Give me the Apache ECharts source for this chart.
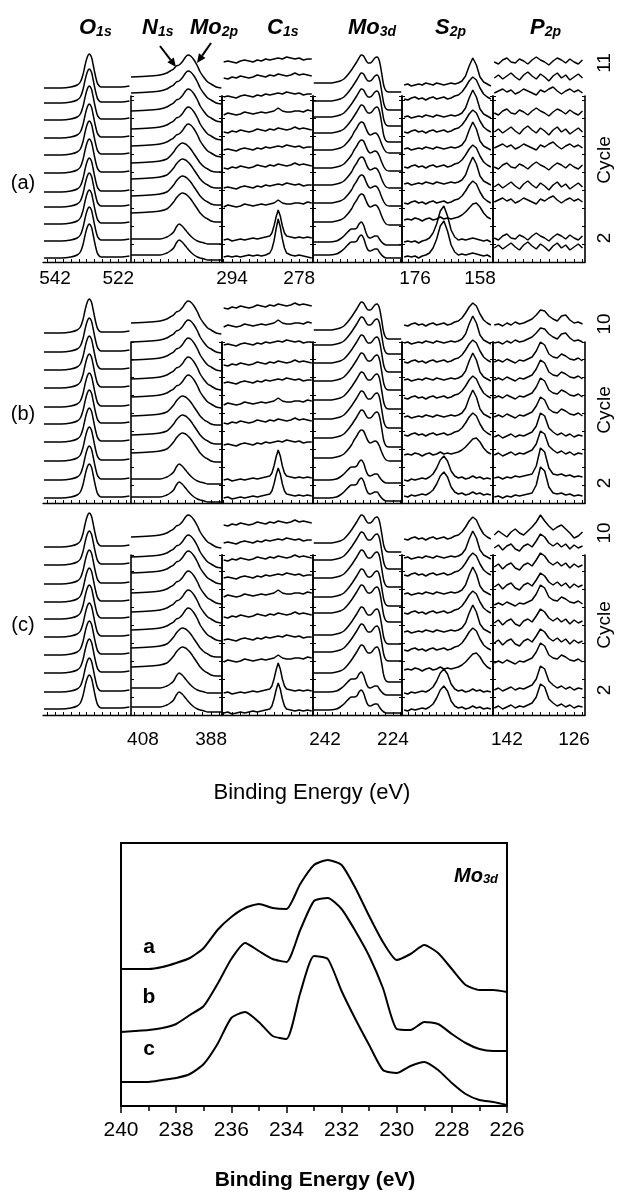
<!DOCTYPE html>
<html>
<head>
<meta charset="utf-8">
<script src="https://cdn.jsdelivr.net/npm/echarts@6/dist/echarts.min.js"></script>
<style>
  html, body { margin: 0; padding: 0; background: #fff; }
  #chart { width: 619px; height: 1192px; }
</style>
</head>
<body>
<div id="chart"></div>
<script>
// ---------- spectra (intensity in px above each trace's left end) ----------
// O1s
const o1sEnergy = [545.5, 540, 537, 535, 534, 533.2, 532.5, 531.8, 531.2, 530.5, 530, 529.5, 529, 528.5, 527.5, 525, 521, 518.5];
const o1sPeak   = [0, 0, 1, 3, 6, 13, 23, 31, 34, 31, 24, 16, 9, 4, 1, 1, 1, 2];
// N1s / Mo2p
const n1sEnergy = [411.5, 406, 403, 401, 400, 399, 398.2, 397.4, 396.5, 395.5, 394.8, 394, 393, 392, 391.2, 390, 389, 388, 386.5, 385];
const n1sOnly   = [0, 0, 0, 2, 4, 7, 12, 15, 13, 9, 6, 3, 0, -2, -3, -4, -5, -5, -5, -5];
const n1sMix    = [0, 1, 2, 4, 7, 11, 15, 18, 20, 19, 17, 14, 9, 4, 0, -4, -6, -8, -9, -9];
const n1sMo2p   = [0, 1, 2, 4, 6, 8, 11, 12, 15, 20, 22, 21, 17, 11, 5, -1, -5, -7, -10, -11];
// C1s
const c1sEnergy = [296, 295, 294, 293, 292, 291, 290, 289, 288, 287, 286, 285, 284, 283, 282, 281, 280, 279, 278, 277, 276, 275];
const c1sFlat1  = [0, 1, 0, -1, 1, 2, 1, 0, 2, 1, 3, 2, 3, 4, 3, 5, 4, 3, 4, 2, 3, 3];
const c1sFlat2  = [0, -1, 1, 0, 2, 1, 0, 1, 3, 2, 1, 3, 2, 4, 3, 2, 3, 5, 3, 4, 3, 2];
const c1sFlat3  = [0, 2, 1, 0, 1, 3, 2, 1, 2, 3, 2, 3, 4, 7, 4, 3, 3, 4, 4, 3, 5, 4];
const c1sPeakEnergy = [296, 295, 294, 293, 292, 291, 290, 289, 288, 287, 286, 285, 284.5, 284, 283.5, 283, 282.5, 282, 281.5, 281, 280, 279, 278, 277, 276, 275];
const c1sPeakHi = [0, 1, 0, 1, 0, 1, 2, 1, 2, 1, 2, 4, 8, 16, 28, 38, 30, 18, 9, 4, 2, 1, 2, 1, 0, -1];
const c1sPeakLo = [0, 1, -1, 0, 1, 0, 1, 2, 1, 2, 3, 4, 7, 14, 23, 30, 24, 14, 7, 4, 3, 2, 3, 2, 3, 2];
// Mo3d (stacked panels)
const mo3dEnergy = [245, 243, 241, 239, 238, 237, 236, 235, 234.3, 233.6, 233, 232.4, 231.8, 231.2, 230.6, 230, 229.4, 228.8, 228.2, 227.6, 227, 226.4, 225.8, 225, 223, 221.8];
const mo3dTop = [0, 0, 0, 1, 2, 4, 8, 13, 17, 21, 25, 28, 27, 23, 20, 20, 22, 25, 26, 22, 10, -3, -8, -9, -9, -9];
const mo3dMid = [0, 0, 0, 1, 2, 4, 8, 13, 18, 22, 26, 28, 27, 22, 17, 15, 16, 17, 16, 12, 6, 1, -2, -3, -3, -3];
const mo3dLow = [0, 0, 0, 1, 3, 6, 10, 13, 13, 14, 18, 20, 17, 10, 5, 4, 5, 6, 6, 3, 0, -2, -3, -3, -3, -3];
// S2p
const s2pEnergy = [179, 178, 177, 176, 175, 174, 173, 172, 171, 170, 169, 168, 167, 166, 165, 164, 163, 162, 161, 160, 159, 158, 157, 156, 155];
const s2pHi1  = [0, 1, -1, 0, 1, 0, 2, 1, 0, 2, 1, 0, 1, 2, 1, 2, 4, 9, 19, 27, 20, 8, 3, 1, -1];
const s2pHi2  = [0, -1, 1, 2, 0, 1, -1, 1, 2, 0, 1, 2, 0, 1, 3, 4, 7, 12, 18, 22, 19, 11, 5, 2, 0];
const s2pHi3  = [0, 1, 0, 2, 1, -1, 1, 2, 0, 1, 3, 1, 2, 1, 2, 3, 5, 8, 12, 16, 17, 13, 7, 3, 1];
const s2pLowA = [0, 1, 0, 1, -1, 1, 2, 4, 9, 18, 31, 36, 26, 12, 5, 2, 3, 2, 3, 4, 3, 2, 1, 2, 0];
const s2pLowB = [0, -1, 1, 0, 1, 2, 1, 3, 6, 12, 20, 24, 19, 9, 4, 2, 3, 1, 2, 4, 2, 3, 1, 2, 1];
// P2p
const p2pEnergy = [145, 144, 143, 142, 141, 140, 139, 138, 137, 136, 135, 134, 133, 132, 131, 130, 129, 128, 127, 126, 125, 124];
const p2pNoise1 = [0, 3, -1, 2, 5, 1, -2, 3, 6, 2, -1, 4, 1, -3, 2, 5, 0, 3, -2, 1, 4, 0];
const p2pNoise2 = [0, -2, 2, 4, 0, -1, 3, 1, -2, 2, 5, 2, 0, -3, 1, 4, 2, -1, 3, 0, -2, 2];
const p2pNoise3 = [0, 2, 4, 1, 3, -1, 1, 4, 2, 0, -2, 3, 1, 4, 6, 2, -1, 2, 4, 1, 3, 0];
const p2pPeak   = [0, 1, -1, 1, 0, 2, 1, 2, 3, 4, 12, 30, 26, 10, 4, 3, 4, 2, 3, 1, 2, 1];
const p2pPeak2  = [0, 2, -1, 1, 3, 0, 2, 1, 3, 5, 11, 24, 21, 9, 5, 2, 4, 1, 3, 0, 2, 1];
const p2pMid    = [0, 2, 0, 3, 1, -1, 2, 1, 3, 5, 11, 20, 17, 8, 5, 4, 8, 6, 3, 2, 4, 1];
const p2pTop    = [0, 1, -1, 2, 0, 3, 1, 2, 4, 6, 10, 15, 14, 9, 6, 4, 9, 10, 5, 2, 3, 1];
const p2pMidC   = [0, 3, -2, 2, 4, -1, -3, 2, 4, 1, 7, 14, 11, 5, 2, 5, 1, 4, -1, 3, 0, 2];
const p2pTopC   = [0, 4, 1, -2, 3, 6, 2, 0, 4, 8, 13, 20, 14, 9, 5, 8, 10, 6, 2, -3, -1, 3];

// which spectrum each stacked trace shows, cycle 1 (bottom) upwards
const traceShapes = {
  a: [
    ['o', 'o', 'o', 'o', 'o', 'o', 'o', 'o', 'o', 'o', 'o'],
    ['n', 'n', 'nx', 'nx', 'nx', 'nx', 'nm', 'nm', 'nm', 'nm', 'nm'],
    ['cH', 'cL', 'c3', 'c1', 'c2', 'c1', 'c2', 'c3', 'c1', 'c2', 'c1'],
    ['mL', 'mL', 'mM', 'mM', 'mM', 'mM', 'mM', 'mT', 'mT', 'mT', 'mT'],
    ['sA', 'sA', 's3', 's2', 's1', 's2', 's1', 's2', 's1', 's2', 's1'],
    ['p1', 'p2', 'p3', 'p1', 'p2', 'p3', 'p1', 'p2', 'p3', 'p1', 'p2']
  ],
  b: [
    ['o', 'o', 'o', 'o', 'o', 'o', 'o', 'o', 'o', 'o'],
    ['n', 'n', 'nx', 'nx', 'nx', 'nm', 'nm', 'nm', 'nm', 'nm'],
    ['cL', 'cL', 'c1', 'c2', 'c3', 'c1', 'c2', 'c1', 'c3', 'c2'],
    ['mL', 'mL', 'mM', 'mT', 'mT', 'mT', 'mT', 'mT', 'mT', 'mT'],
    ['sB', 'sB', 's3', 's2', 's1', 's2', 's1', 's2', 's1', 's2'],
    ['pP', 'pP', 'pP2', 'pP2', 'pM', 'pM', 'pM', 'pM', 'pT', 'pT']
  ],
  c: [
    ['o', 'o', 'o', 'o', 'o', 'o', 'o', 'o', 'o', 'o'],
    ['n', 'n', 'nx', 'nx', 'nm', 'nm', 'nm', 'nm', 'nm', 'nm'],
    ['cL', 'cL', 'c3', 'c1', 'c2', 'c3', 'c1', 'c2', 'c1', 'c2'],
    ['mL', 'mL', 'mT', 'mT', 'mT', 'mT', 'mT', 'mT', 'mT', 'mT'],
    ['sB', 'sB', 's3', 's2', 's1', 's2', 's1', 's2', 's1', 's2'],
    ['pP2', 'pP2', 'pM', 'pMC', 'pMC', 'pM', 'pMC', 'pMC', 'pMC', 'pTC']
  ]
};

const rowNames = ['a', 'b', 'c'];
const cycleLabels = [['11', '2'], ['10', '2'], ['10', '2']];
const axisLabelsRowA = [[542, 522], null, [294, 278], null, [176, 158], null];
const axisLabelsRowC = [null, [408, 388], null, [242, 224], null, [142, 126]];
const panelTitles = [['O', '1s'], ['N', '1s'], ['Mo', '2p'], ['C', '1s'], ['Mo', '3d'], ['S', '2p'], ['P', '2p']];

// Mo3d comparison panel
const moEnergy = [240, 239.5, 239, 238.5, 238, 237.5, 237, 236.5, 236, 235.5, 235, 234.5, 234, 233.5, 233, 232.5, 232, 231.5, 231, 230.5, 230, 229.5, 229, 228.5, 228, 227.5, 227, 226.5, 226];
const moA = [137, 137, 137, 139, 143, 148, 158, 176, 189, 198, 202, 198, 197, 222, 241, 246, 241, 218, 190, 164, 146, 152, 161, 153, 137, 121, 116, 116, 114];
const moB = [74, 75, 76, 78, 82, 91, 100, 122, 147, 163, 155, 147, 144, 176, 205, 208, 197, 175, 150, 118, 77, 76, 84, 82, 72, 63, 57, 55, 55];
const moC = [24, 24, 24, 26, 28, 32, 42, 62, 88, 94, 84, 70, 67, 113, 150, 147, 115, 87, 61, 36, 33, 40, 44, 36, 23, 12, 6, 4, 1];
const moTicks = [240, 238, 236, 234, 232, 230, 228, 226];
const moNames = ['a', 'b', 'c'];

// ---------- layout ----------
const FONT = 'Liberation Sans, Arial, sans-serif';
const panelEdges = [43, 131, 222, 313, 402, 493, 585];
const rowFrameTop = [96, 342, 555];
const rowAxisY = [262, 503, 715];
const panelRange = [[518, 545.8], [384.8, 411.5], [274.7, 296.4], [221.6, 245.2], [154.4, 179.6], [123.4, 145.3]];
const panelSmooth = [0.3, 0.3, 0, 0.3, 0, 0];
const tickStart = [519.5, 385.5, 276, 222, 156, 124];
const tickStep = [2.5, 2.5, 2, 2, 2, 2];
// vertical offset (px above the axis) of each trace's left end
const offsets = {
  a: [[4, 21, 38, 55, 70, 89, 107, 124, 142, 159, 174],
      [7, 23, 49, 66, 83, 99, 116, 133, 151, 169, 185],
      [5, 22, 55, 74, 94, 112, 130, 147, 165, 184, 200],
      [7, 20, 40, 59, 77, 94, 112, 129, 145, 161, 179],
      [5, 20, 42, 59, 78, 95, 113, 130, 145, 163, 177],
      [14, 24, 60, 75, 95, 114, 130, 149, 169, 184, 200]],
  b: [[5, 23, 42, 61, 79, 96, 115, 133, 151, 170],
      [6, 24, 50, 68, 87, 106, 124, 143, 161, 180],
      [5, 23, 58, 80, 98, 120, 138, 158, 176, 195],
      [5, 23, 45, 65, 84, 103, 122, 140, 158, 173],
      [7, 23, 48, 68, 86, 105, 123, 141, 160, 178],
      [6, 25, 48, 66, 86, 105, 123, 141, 160, 178]],
  c: [[6, 23, 42, 60, 78, 96, 113, 131, 150, 168],
      [8, 27, 48, 67, 85, 103, 122, 142, 158, 178],
      [2, 22, 53, 75, 98, 118, 137, 155, 172, 190],
      [5, 23, 42, 63, 80, 102, 118, 137, 155, 172],
      [5, 22, 45, 65, 83, 102, 121, 140, 157, 176],
      [7, 25, 52, 72, 92, 110, 128, 148, 167, 180]]
};

const shapes = {
  o: [o1sEnergy, o1sPeak],
  n: [n1sEnergy, n1sOnly], nx: [n1sEnergy, n1sMix], nm: [n1sEnergy, n1sMo2p],
  c1: [c1sEnergy, c1sFlat1], c2: [c1sEnergy, c1sFlat2], c3: [c1sEnergy, c1sFlat3],
  cH: [c1sPeakEnergy, c1sPeakHi], cL: [c1sPeakEnergy, c1sPeakLo],
  mT: [mo3dEnergy, mo3dTop], mM: [mo3dEnergy, mo3dMid], mL: [mo3dEnergy, mo3dLow],
  s1: [s2pEnergy, s2pHi1], s2: [s2pEnergy, s2pHi2], s3: [s2pEnergy, s2pHi3],
  sA: [s2pEnergy, s2pLowA], sB: [s2pEnergy, s2pLowB],
  p1: [p2pEnergy, p2pNoise1], p2: [p2pEnergy, p2pNoise2], p3: [p2pEnergy, p2pNoise3],
  pP: [p2pEnergy, p2pPeak], pP2: [p2pEnergy, p2pPeak2], pM: [p2pEnergy, p2pMid],
  pT: [p2pEnergy, p2pTop], pMC: [p2pEnergy, p2pMidC], pTC: [p2pEnergy, p2pTopC]
};

function tickValues(p) {
  const out = [];
  for (let v = tickStart[p]; v <= panelRange[p][1]; v += tickStep[p]) out.push(+v.toFixed(2));
  return out;
}

const grid = [], xAxis = [], yAxis = [], series = [];

rowNames.forEach(function (rn, r) {
  for (let p = 0; p < 6; p++) {
    const gi = grid.length;
    const h = rowAxisY[r] - rowFrameTop[r];
    grid.push({ left: panelEdges[p], top: rowFrameTop[r], width: panelEdges[p + 1] - panelEdges[p], height: h, outerBoundsMode: 'none' });
    let labels = null, margin = 7;
    if (r === 0) labels = axisLabelsRowA[p];
    if (r === 2) { labels = axisLabelsRowC[p]; margin = 15; }
    xAxis.push({
      gridIndex: gi, type: 'value', inverse: true,
      min: panelRange[p][0], max: panelRange[p][1],
      axisLine: { onZero: false, lineStyle: { color: '#000', width: 1.4 } },
      axisTick: { inside: true, length: 3, customValues: tickValues(p), lineStyle: { color: '#000', width: 1 } },
      axisLabel: labels ? { customValues: labels, margin: margin, fontSize: 19, color: '#000', fontFamily: FONT } : { show: false },
      splitLine: { show: false }
    });
    ['left', 'right'].forEach(function (pos) {
      yAxis.push({
        gridIndex: gi, type: 'value', position: pos, min: 0, max: h, interval: 18,
        axisLine: { show: p > 0, onZero: false, lineStyle: { color: '#000', width: 1.6 } },
        axisTick: { show: p > 0, inside: true, length: 3, lineStyle: { color: '#000' } },
        axisLabel: { show: false }, splitLine: { show: false }
      });
    });
    traceShapes[rn][p].forEach(function (key, i) {
      const s = shapes[key];
      const off = offsets[rn][p][i];
      series.push({
        type: 'line', xAxisIndex: gi, yAxisIndex: 2 * gi,
        data: s[0].map(function (e, k) { return [e, s[1][k] + off]; }),
        showSymbol: false, clip: false, smooth: panelSmooth[p], silent: true,
        lineStyle: { color: '#000', width: 1.5 }
      });
    });
  }
});

// bottom Mo3d comparison panel
const bg = grid.length;
grid.push({ left: 121, top: 843, width: 386, height: 263, outerBoundsMode: 'none' });
const bx = xAxis.length;
xAxis.push({
  gridIndex: bg, type: 'value', inverse: true, min: 226, max: 240, interval: 2,
  axisLine: { onZero: false, lineStyle: { color: '#000', width: 2 } },
  axisTick: { length: 7, lineStyle: { color: '#000', width: 1.5 } },
  minorTick: { show: true, splitNumber: 2, length: 5, lineStyle: { color: '#000', width: 1.5 } },
  axisLabel: { customValues: moTicks, margin: 14, fontSize: 21, color: '#000', fontFamily: FONT },
  splitLine: { show: false }
});
xAxis.push({
  gridIndex: bg, type: 'value', position: 'top', inverse: true, min: 226, max: 240,
  axisLine: { onZero: false, lineStyle: { color: '#000', width: 2 } },
  axisTick: { show: false }, axisLabel: { show: false }, splitLine: { show: false }
});
const by = yAxis.length;
['left', 'right'].forEach(function (pos) {
  yAxis.push({
    gridIndex: bg, type: 'value', position: pos, min: 0, max: 263,
    axisLine: { show: true, onZero: false, lineStyle: { color: '#000', width: 2 } },
    axisTick: { show: false }, axisLabel: { show: false }, splitLine: { show: false }
  });
});
[moA, moB, moC].forEach(function (vals, i) {
  series.push({
    name: moNames[i], type: 'line', xAxisIndex: bx, yAxisIndex: by,
    data: moEnergy.map(function (e, k) { return [e, vals[k]]; }),
    showSymbol: false, smooth: 0.2, silent: true,
    lineStyle: { color: '#000', width: 2 }
  });
});

// ---------- text and annotations ----------
const graphic = [];
const titleX = [79, 142, 190, 267, 348, 435, 530];
const richTitle = {
  m: { fontSize: 22, fontWeight: 'bold', fontStyle: 'italic', fontFamily: FONT, lineHeight: 26, fill: '#000', verticalAlign: 'bottom' },
  s: { fontSize: 14, fontWeight: 'bold', fontStyle: 'italic', fontFamily: FONT, lineHeight: 14, fill: '#000', verticalAlign: 'bottom' }
};
panelTitles.forEach(function (t, i) {
  graphic.push({ type: 'text', x: titleX[i], y: 13, silent: true,
    style: { text: '{m|' + t[0] + '}{s|' + t[1] + '}', rich: richTitle, textVerticalAlign: 'top' } });
});
function arrow(x1, y1, x2, y2) {
  const a = Math.atan2(y2 - y1, x2 - x1), L = 9, W = 4;
  const hx = x2 - L * Math.cos(a), hy = y2 - L * Math.sin(a);
  graphic.push({ type: 'line', silent: true, shape: { x1: x1, y1: y1, x2: hx, y2: hy }, style: { stroke: '#000', lineWidth: 2 } });
  graphic.push({ type: 'polygon', silent: true,
    shape: { points: [[x2, y2], [hx + W * Math.sin(a), hy - W * Math.cos(a)], [hx - W * Math.sin(a), hy + W * Math.cos(a)]] },
    style: { fill: '#000' } });
}
arrow(160, 46, 176, 67);
arrow(211, 43, 197, 63);

const rowLabelY = [183, 414, 625];
const cycleY = [[63, 160, 238], [324, 410, 483], [533, 625, 690]];
rowNames.forEach(function (rn, r) {
  graphic.push({ type: 'text', x: 23, y: rowLabelY[r], silent: true,
    style: { text: '(' + rn + ')', font: '20px ' + FONT, fill: '#000', textAlign: 'center', textVerticalAlign: 'middle' } });
  [cycleLabels[r][0], 'Cycle', cycleLabels[r][1]].forEach(function (txt, k) {
    graphic.push({ type: 'text', x: 605, y: cycleY[r][k], rotation: Math.PI / 2, silent: true,
      style: { text: txt, font: '19px ' + FONT, fill: '#000', textAlign: 'center', textVerticalAlign: 'middle' } });
  });
});
graphic.push({ type: 'text', x: 312, y: 793, silent: true,
  style: { text: 'Binding Energy (eV)', font: '22px ' + FONT, fill: '#000', textAlign: 'center', textVerticalAlign: 'middle' } });

const moLabelY = [947, 997, 1049];
moNames.forEach(function (n, i) {
  graphic.push({ type: 'text', x: 149, y: moLabelY[i], silent: true,
    style: { text: n, font: 'bold 21px ' + FONT, fill: '#000', textAlign: 'center', textVerticalAlign: 'middle' } });
});
graphic.push({ type: 'text', x: 454, y: 862, silent: true,
  style: { text: '{m|Mo}{s|3d}', rich: {
    m: { fontSize: 20, fontWeight: 'bold', fontStyle: 'italic', fontFamily: FONT, lineHeight: 24, fill: '#000', verticalAlign: 'bottom' },
    s: { fontSize: 13, fontWeight: 'bold', fontStyle: 'italic', fontFamily: FONT, lineHeight: 13, fill: '#000', verticalAlign: 'bottom' }
  }, textVerticalAlign: 'top' } });
graphic.push({ type: 'text', x: 315, y: 1180, silent: true,
  style: { text: 'Binding Energy (eV)', font: 'bold 21px ' + FONT, fill: '#000', textAlign: 'center', textVerticalAlign: 'middle' } });

const chart = echarts.init(document.getElementById('chart'));
chart.setOption({
  backgroundColor: '#fff',
  animation: false,
  grid: grid, xAxis: xAxis, yAxis: yAxis, series: series,
  graphic: graphic
});
</script>
</body>
</html>
